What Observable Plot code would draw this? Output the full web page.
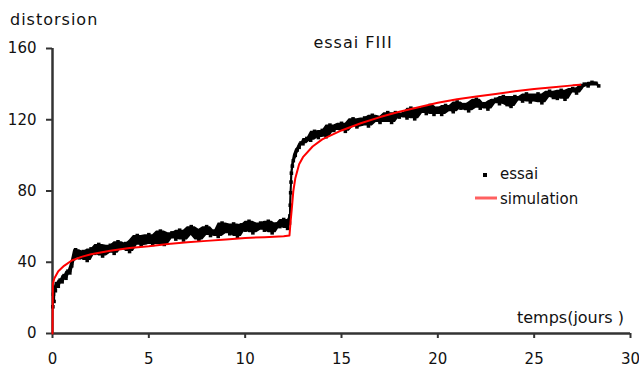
<!DOCTYPE html>
<html>
<head>
<meta charset="utf-8">
<script src="https://cdn.jsdelivr.net/npm/d3@7"></script>
<script src="https://cdn.jsdelivr.net/npm/@observablehq/plot@0.6"></script>
<style>
  body { margin: 0; background: #fff; }
  #chart { position: relative; width: 639px; height: 373px; }
  svg text { font-family: "DejaVu Sans", sans-serif; }
</style>
</head>
<body>
<div id="chart"></div>
<script>
// ---- data ----
const title = "essai FIII";
const yLabel = "distorsion";
const xLabel = "temps(jours )";
const seriesNames = ["essai", "simulation"];
const xTicks = [0, 5, 10, 15, 20, 25, 30];
const yTicks = [0, 40, 80, 120, 160];

// measured test ("essai")
const essaiX = [0.02,0.05,0.08,0.1,0.15,0.2,0.3,0.4,0.5,0.6,0.7,0.8,0.9,1.0,1.1,
  1.2,1.4,1.6,1.8,2.0,2.2,2.4,2.6,2.8,3.0,3.2,3.4,3.6,3.8,4.0,4.2,4.4,4.6,4.8,5.0,
  5.2,5.4,5.6,5.8,6.0,6.2,6.4,6.6,6.8,7.0,7.2,7.4,7.6,7.8,8.0,8.2,8.4,8.6,8.8,9.0,
  9.2,9.4,9.6,9.8,10.0,10.2,10.4,10.6,10.8,11.0,11.2,11.4,11.6,11.8,12.0,12.2,
  12.3,12.32,12.34,12.36,12.38,12.4,12.45,12.5,12.6,12.7,12.8,12.9,13.0,13.2,13.4,
  13.6,13.8,14.0,14.2,14.4,14.6,14.8,15.0,15.2,15.4,15.6,15.8,16.0,16.2,16.4,16.6,16.8,
  17.0,17.2,17.4,17.6,17.8,18.0,18.2,18.4,18.6,18.8,19.0,19.2,19.4,19.6,19.8,20.0,
  20.2,20.4,20.6,20.8,21.0,21.2,21.4,21.6,21.8,22.0,22.2,22.4,22.6,22.8,23.0,23.2,
  23.4,23.6,23.8,24.0,24.2,24.4,24.6,24.8,25.0,25.2,25.4,25.6,25.8,26.0,26.2,26.4,
  26.6,26.8,27.0,27.2,27.4,27.6,27.8,28.0,28.2,28.35];
const essaiY = [15,22,18,26,24,28,26.5,30,29,32.5,31,35,34,38,42,
  47,42.5,46,41,47.5,45,50,43.5,47,49.5,45,51.5,48,50.5,46,52.5,55,49.5,51,55.5,
  50,54.5,57.5,50,54.5,56.5,53,58,52.5,56.5,60,55,52.5,58.5,60,55,57.5,54.5,62,59,
  56,61.5,54.5,61,58,63,56.5,60.5,62,58,63,56.5,61.5,60,64,59,
  62,66,72,79,85,90,94,97,100,103,104.5,107,106.5,109.5,108.5,
  113.5,110,114,110.5,117,114,115.5,118,113.5,118,120.5,116,117.5,121,116.5,122.5,120,
  118.5,122,124,118.5,124,121.5,123.5,121,126.5,120.5,124,126.5,123.5,128,123,126.5,
  123,128,126.5,124.5,130,126.5,128.5,125,130,131.5,126.5,129,126,130.5,131.5,129,
  133,128.5,127.5,133,132,130.5,134.5,130,132,134.5,129.5,134,136,132.5,132,136.5,
  131.5,136,137.5,135,138,140,139,141,140.5,139];

// model ("simulation")
const simX = [0,0.02,0.1,0.3,0.6,1.0,1.5,2,3,4,5,6,7,8,9,10,11,12,12.3,
  12.35,12.42,12.5,12.6,12.8,13.0,13.5,14,15,16,17,18,19,20,21,22,23,24,25,26,27,27.4];
const simY = [0,28,31,35,38,41,43,44.5,46.5,48,49,50.3,51.2,52,52.8,53.6,54.1,54.6,55,
  62,70,80,87,95,99,105,109,114,118,121.5,124.5,127,129.5,131.5,133,134.5,136,137.2,138.3,139.3,139.6];

const essai = essaiX.map((x, i) => ({x, y: essaiY[i]}));
// scatter envelope of neighbouring measured points (for the dense band look)
const essaiBand = essai.map((d, i) => {
  const w = essaiY.slice(Math.max(0, i - 1), i + 2);
  return {x: d.x, lo: d3.min(w), hi: d3.max(w)};
});
const sim = simX.map((x, i) => ({x, y: simY[i]}));

const axisColor = "#333";
const plot = Plot.plot({
  width: 639,
  height: 373,
  marginLeft: 52,
  marginRight: 9,
  marginTop: 48,
  marginBottom: 40,
  style: {fontFamily: "DejaVu Sans, sans-serif", fontSize: "15px", background: "#fff", color: "#111"},
  x: {domain: [0, 30]},
  y: {domain: [0, 160]},
  marks: [
    Plot.axisX({ticks: xTicks, tickSize: 5, tickPadding: 15, label: null, stroke: axisColor, strokeWidth: 2, tickFormat: d => d}),
    Plot.axisY({ticks: yTicks, tickSize: 6, tickPadding: 10, label: null, stroke: axisColor, strokeWidth: 2, tickFormat: d => d}),
    Plot.ruleX([0], {stroke: axisColor, strokeWidth: 2.5}),
    Plot.ruleY([0], {stroke: axisColor, strokeWidth: 2.5}),
    Plot.areaY(essaiBand, {x: "x", y1: "lo", y2: "hi", fill: "#000"}),
    Plot.line(essai, {x: "x", y: "y", stroke: "#000", strokeWidth: 2}),
    Plot.dot(essai, {x: "x", y: "y", symbol: "square", r: 2, fill: "#000"}),
    Plot.line(sim, {x: "x", y: "y", stroke: "#ff0000", strokeWidth: 2})
  ]
});
document.getElementById("chart").appendChild(plot);

// titles & legend (annotations)
const svg = d3.select(plot);
const ann = svg.append("g").attr("font-family", "DejaVu Sans, sans-serif").attr("font-size", 15)
  .attr("fill", "#111").attr("text-anchor", "start");
ann.append("text").attr("x", 10).attr("y", 25).attr("font-size", 16).attr("letter-spacing", 1).text(yLabel);
ann.append("text").attr("x", 353).attr("y", 48).attr("text-anchor", "middle").attr("font-size", 16).attr("letter-spacing", 1).text(title);
ann.append("text").attr("x", 624).attr("y", 323).attr("text-anchor", "end").attr("font-size", 16).text(xLabel);
ann.append("rect").attr("x", 483).attr("y", 173).attr("width", 4).attr("height", 4).attr("fill", "#000");
ann.append("text").attr("x", 500).attr("y", 179).text(seriesNames[0]);
ann.append("line").attr("x1", 475).attr("x2", 497).attr("y1", 198).attr("y2", 198).attr("stroke", "#ff6060").attr("stroke-width", 3);
ann.append("text").attr("x", 500).attr("y", 204).text(seriesNames[1]);
</script>
</body>
</html>
